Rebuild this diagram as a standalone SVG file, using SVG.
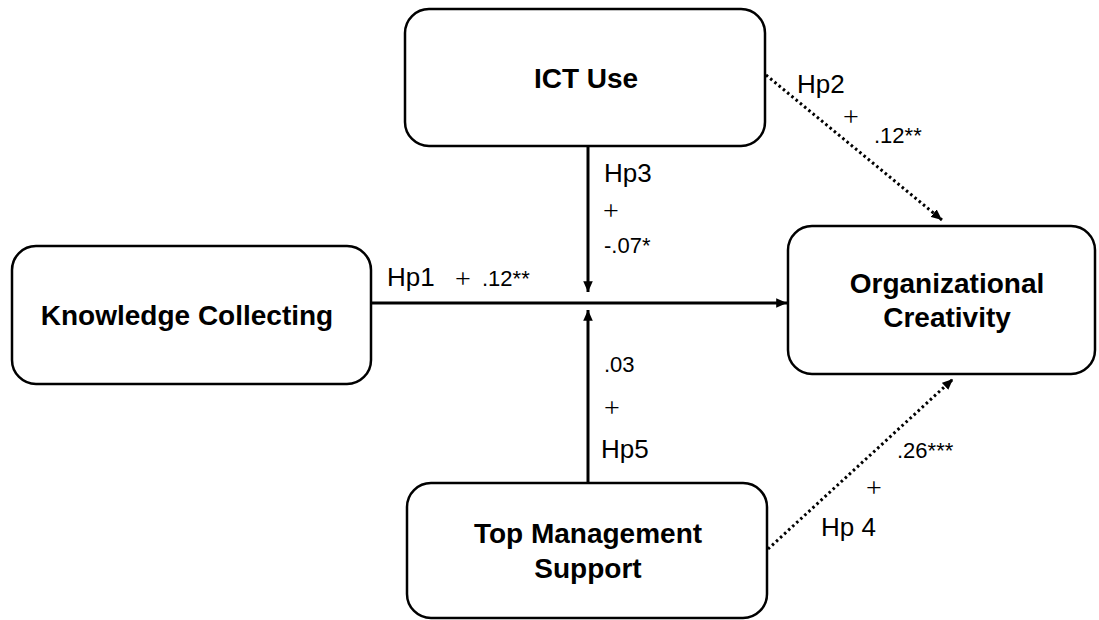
<svg xmlns="http://www.w3.org/2000/svg" width="1099" height="620" viewBox="0 0 1099 620">
<style>
.box{fill:#fff;stroke:#000;stroke-width:2.5}
.name{font-family:"Liberation Sans",Arial,sans-serif;font-weight:bold;font-size:28px;fill:#000;text-anchor:middle}
.hp{font-family:"Liberation Sans",Arial,sans-serif;font-size:26px;fill:#000}
.val{font-family:"Liberation Sans",Arial,sans-serif;font-size:22px;fill:#000}
.plus{font-family:"Liberation Serif","Times New Roman",serif;font-size:28px;fill:#000;text-anchor:middle}
.solid{stroke:#000;stroke-width:3;fill:none}
.dot{stroke:#000;stroke-width:3;fill:none;stroke-dasharray:2.5 3}
</style>
<defs>
<marker id="ah" viewBox="0 0 10 10" refX="10" refY="5" markerWidth="3.6" markerHeight="3.2" markerUnits="strokeWidth" orient="auto" preserveAspectRatio="none">
<path d="M0,0 L10,5 L0,10 z" fill="#000"/>
</marker>
</defs>
<g id="connectors">
<line class="solid" x1="371" y1="303" x2="787" y2="303" marker-end="url(#ah)"/>
<line class="solid" x1="588" y1="146" x2="588" y2="292" marker-end="url(#ah)"/>
<line class="solid" x1="588" y1="483" x2="588" y2="310" marker-end="url(#ah)"/>
<line class="dot" x1="766" y1="75" x2="942" y2="220" marker-end="url(#ah)"/>
<line class="dot" x1="768" y1="549" x2="953" y2="379" marker-end="url(#ah)"/>
</g>
<g id="labels">
<text class="hp" x="387" y="286">Hp1</text>
<text class="plus" x="463" y="288">+</text>
<text class="val" x="482" y="286">.12**</text>
<text class="hp" x="604" y="182">Hp3</text>
<text class="plus" x="611" y="220">+</text>
<text class="val" x="604" y="253">-.07*</text>
<text class="hp" x="797" y="93">Hp2</text>
<text class="plus" x="851" y="126">+</text>
<text class="val" x="874" y="143">.12**</text>
<text class="val" x="604" y="372">.03</text>
<text class="plus" x="612" y="417">+</text>
<text class="hp" x="601" y="458">Hp5</text>
<text class="val" x="897" y="458">.26***</text>
<text class="plus" x="874" y="497">+</text>
<text class="hp" x="821" y="536">Hp 4</text>
</g>
<g id="ict">
<rect class="box" x="405" y="9" width="360" height="137" rx="24"/>
<text class="name" x="586" y="88">ICT Use</text>
</g>
<g id="kc">
<rect class="box" x="12" y="246" width="359" height="138" rx="24"/>
<text class="name" x="187" y="325">Knowledge Collecting</text>
</g>
<g id="oc">
<rect class="box" x="788" y="226" width="307" height="148" rx="24"/>
<text class="name" x="947" y="293">Organizational</text>
<text class="name" x="947" y="327">Creativity</text>
</g>
<g id="tms">
<rect class="box" x="407" y="483" width="360" height="135" rx="24"/>
<text class="name" x="588" y="543">Top Management</text>
<text class="name" x="588" y="578">Support</text>
</g>
</svg>
